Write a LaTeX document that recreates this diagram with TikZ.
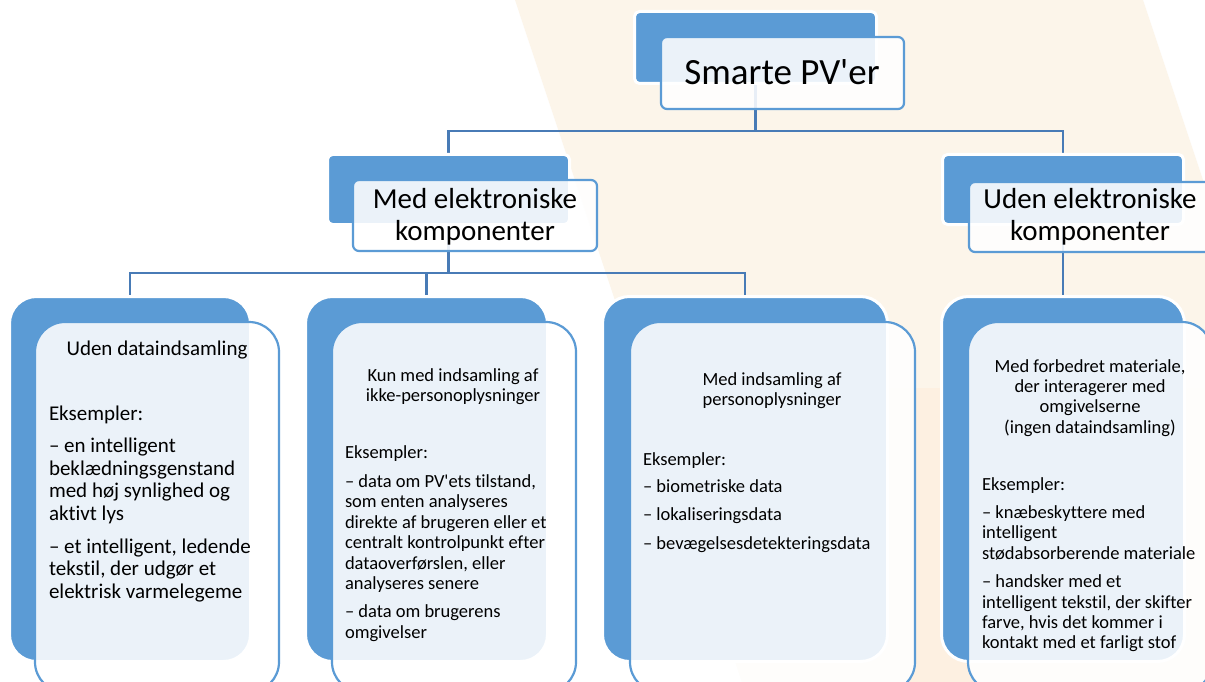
\documentclass[tikz,border=0pt]{standalone}
\usepackage{fontspec}
\setmainfont{Carlito}[Ligatures={TeXOff,NoCommon},RawFeature={-liga;-clig;-dlig}]
\definecolor{pvblue}{RGB}{91,155,213}
\definecolor{connblue}{RGB}{72,123,182}
\definecolor{creamA}{RGB}{252,245,234}
\definecolor{creamB}{RGB}{253,240,225}
\newcommand\fA{\fontsize{21}{22.6}\selectfont}
\newcommand\fB{\fontsize{18.5}{20.4}\selectfont}
\newcommand\fM{\fontsize{29}{32}\selectfont}
\pgfdeclarelayer{bglayer}
\pgfdeclarelayer{connlayer}
\pgfsetlayers{bglayer,connlayer,main}
\tikzset{
  conn/.style={draw=connblue, line width=2.5pt},
  backbox/.style={fill=pvblue, draw=white, line width=3pt, inner sep=0pt, outer sep=0pt, rounded corners=5pt},
  frontbox/.style={draw=pvblue, line width=2.2pt, fill=white, fill opacity=0.88, inner sep=0pt, outer sep=0pt, rounded corners=6pt},
  panelback/.style={backbox, rounded corners=27pt},
  panelfront/.style={frontbox, rounded corners=30pt},
  txt/.style={inner sep=0pt, outer sep=0pt, text=black},
}
\begin{document}
\begin{tikzpicture}[x=1pt,y=-1pt]
\useasboundingbox (0,0) rectangle (1205,682);
\clip (0,0) rectangle (1205,682);
\begin{pgfonlayer}{bglayer}
\fill[white] (0,0) rectangle (1205,682);
\fill[creamA] (515,0) -- (1143,0) -- (1205,186) -- (1205,682) -- (742,682) -- cycle;
\fill[creamB] (644.3,388) -- (1205,388) -- (1205,682) -- (742,682) -- cycle;
\end{pgfonlayer}

% back boxes
\node[backbox, minimum width=242pt, minimum height=72pt] (smB) at (755.5,47.5) {};
\node[backbox, minimum width=242pt, minimum height=70pt] (medB) at (448.5,189.5) {};
\node[backbox, minimum width=241pt, minimum height=70pt] (udB) at (1063,189.5) {};
\node[panelback, minimum width=241pt, minimum height=365pt] (p1B) at (130,479) {};
\node[panelback, minimum width=242pt, minimum height=365pt] (p2B) at (426.5,479) {};
\node[panelback, minimum width=285pt, minimum height=365pt] (p3B) at (745,479) {};
\node[panelback, minimum width=243pt, minimum height=365pt] (p4B) at (1063,479) {};

% front boxes
\node[frontbox, minimum width=243pt, minimum height=72pt] (smF) at (782.5,73) {};
\node[frontbox, minimum width=244pt, minimum height=71pt] (medF) at (475,215.5) {};
\node[frontbox, minimum width=244pt, minimum height=70pt] (udF) at (1091,217) {};
\node[panelfront, minimum width=244pt, minimum height=370pt] (p1F) at (157,507) {};
\node[panelfront, minimum width=244pt, minimum height=370pt] (p2F) at (454,507) {};
\node[panelfront, minimum width=285pt, minimum height=370pt] (p3F) at (772.5,507) {};
\node[panelfront, minimum width=244pt, minimum height=370pt] (p4F) at (1090,507) {};

% connectors, behind the boxes
\coordinate (bus1) at (755.5,131);
\coordinate (bus2) at (448.5,273);
\begin{pgfonlayer}{connlayer}
\draw[conn] (smB.center) -- (bus1);
\draw[conn] (medB.north) |- (bus1) -| (udB.north);
\draw[conn] (medB.center) -- (bus2);
\draw[conn] (p1B.north) |- (bus2) -| (p3B.north);
\draw[conn] (bus2 -| p2B.north) -- (p2B.north);
\draw[conn] (udB.center) -- (p4B.north);
\end{pgfonlayer}

% texts
\node[txt, anchor=base, font=\fontsize{37}{40}\selectfont] (smT) at (782,84.5) {Smarte PV'er};
\node[txt, anchor=base] (medT) at (475,208) {\parbox[t]{244pt}{\centering\fM Med elektroniske\\ komponenter}};
\node[txt, anchor=base] (udT) at (1090,208) {\parbox[t]{244pt}{\centering\fM Uden elektroniske\\ komponenter}};

\node[txt, anchor=base] (p1T) at (157,355) {\parbox[t]{240pt}{\centering\fA Uden dataindsamling}};
\node[txt, anchor=base west] (p1X) at (49,420) {\parbox[t]{240pt}{\raggedright\fA Eksempler:\\[10pt]– en intelligent\\beklædningsgenstand\\med høj synlighed og\\aktivt lys\\[10pt]– et intelligent, ledende\\tekstil, der udgør et\\elektrisk varmelegeme}};

\node[txt, anchor=base] (p2T) at (453,381) {\parbox[t]{240pt}{\centering\fB Kun med indsamling af\\ikke-personoplysninger}};
\node[txt, anchor=base west] (p2X) at (345,458) {\parbox[t]{240pt}{\raggedright\fB Eksempler:\\[9pt]– data om PV'ets tilstand,\\som enten analyseres\\direkte af brugeren eller et\\centralt kontrolpunkt efter\\dataoverførslen, eller\\analyseres senere\\[8pt]– data om brugerens\\omgivelser}};

\node[txt, anchor=base] (p3T) at (772,385) {\parbox[t]{280pt}{\centering\fB Med indsamling af\\personoplysninger}};
\node[txt, anchor=base west] (p3X) at (643,465) {\parbox[t]{280pt}{\raggedright\fB Eksempler:\\[7pt]– biometriske data\\[8pt]– lokaliseringsdata\\[8pt]– bevægelsesdetekteringsdata}};

\node[txt, anchor=base] (p4T) at (1090,372) {\parbox[t]{240pt}{\centering\fB Med forbedret materiale,\\der interagerer med\\omgivelserne\\(ingen dataindsamling)}};
\node[txt, anchor=base west] (p4X) at (982,490) {\parbox[t]{240pt}{\raggedright\fB Eksempler:\\[8pt]– knæbeskyttere med\\intelligent\\stødabsorberende materiale\\[8pt]– handsker med et\\intelligent tekstil, der skifter\\farve, hvis det kommer i\\kontakt med et farligt stof}};
\end{tikzpicture}
\end{document}
